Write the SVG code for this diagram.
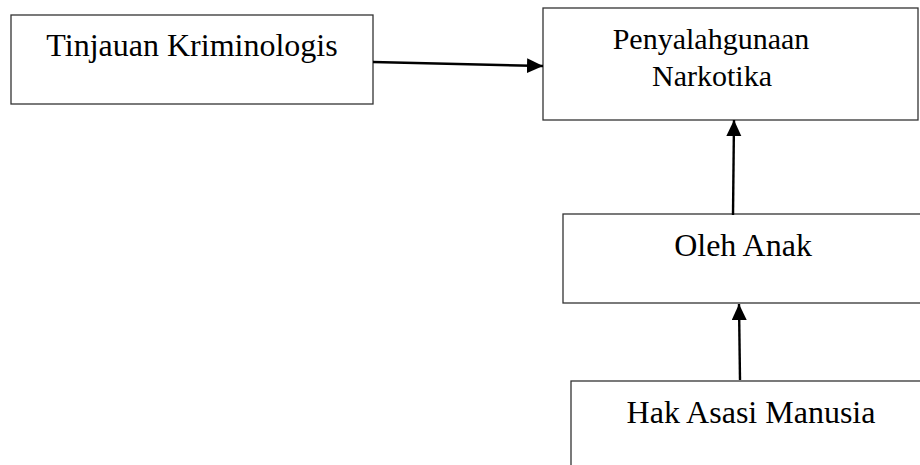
<svg xmlns="http://www.w3.org/2000/svg" width="920" height="465" viewBox="0 0 920 465">
<style>
.box{fill:#fff;stroke:#333;stroke-width:1.3}
.lbl{font-family:"Liberation Serif","Times New Roman",serif;font-size:32px;fill:#000;text-anchor:middle}
.sm{font-size:30px}
.conn{stroke:#000;stroke-width:2.4;fill:none}
</style>
<defs>
<marker id="ah" markerUnits="userSpaceOnUse" markerWidth="17" markerHeight="16" refX="16" refY="7.5" orient="auto">
<path d="M0,0 L16,7.5 L0,15 z" fill="#000"/>
</marker>
</defs>
<rect width="920" height="465" fill="#fff"/>
<g id="node-tinjauan">
<rect class="box" x="11" y="15" width="362" height="89"/>
<text class="lbl" x="192" y="56">Tinjauan Kriminologis</text>
</g>
<g id="node-penyalahgunaan">
<rect class="box" x="543" y="8" width="375" height="112"/>
<text class="lbl sm" x="711" y="49">Penyalahgunaan</text>
<text class="lbl sm" x="712" y="86">Narkotika</text>
</g>
<g id="node-oleh-anak">
<rect class="box" x="563" y="214" width="370" height="89"/>
<text class="lbl" x="743" y="256">Oleh Anak</text>
</g>
<g id="node-ham">
<rect class="box" x="571" y="381" width="370" height="100"/>
<text class="lbl" x="751" y="423">Hak Asasi Manusia</text>
</g>
<g id="connectors">
<line class="conn" x1="373" y1="62" x2="543" y2="66" marker-end="url(#ah)"/>
<line class="conn" x1="733" y1="215" x2="734" y2="120" marker-end="url(#ah)"/>
<line class="conn" x1="740" y1="380" x2="739" y2="304" marker-end="url(#ah)"/>
</g>
</svg>
